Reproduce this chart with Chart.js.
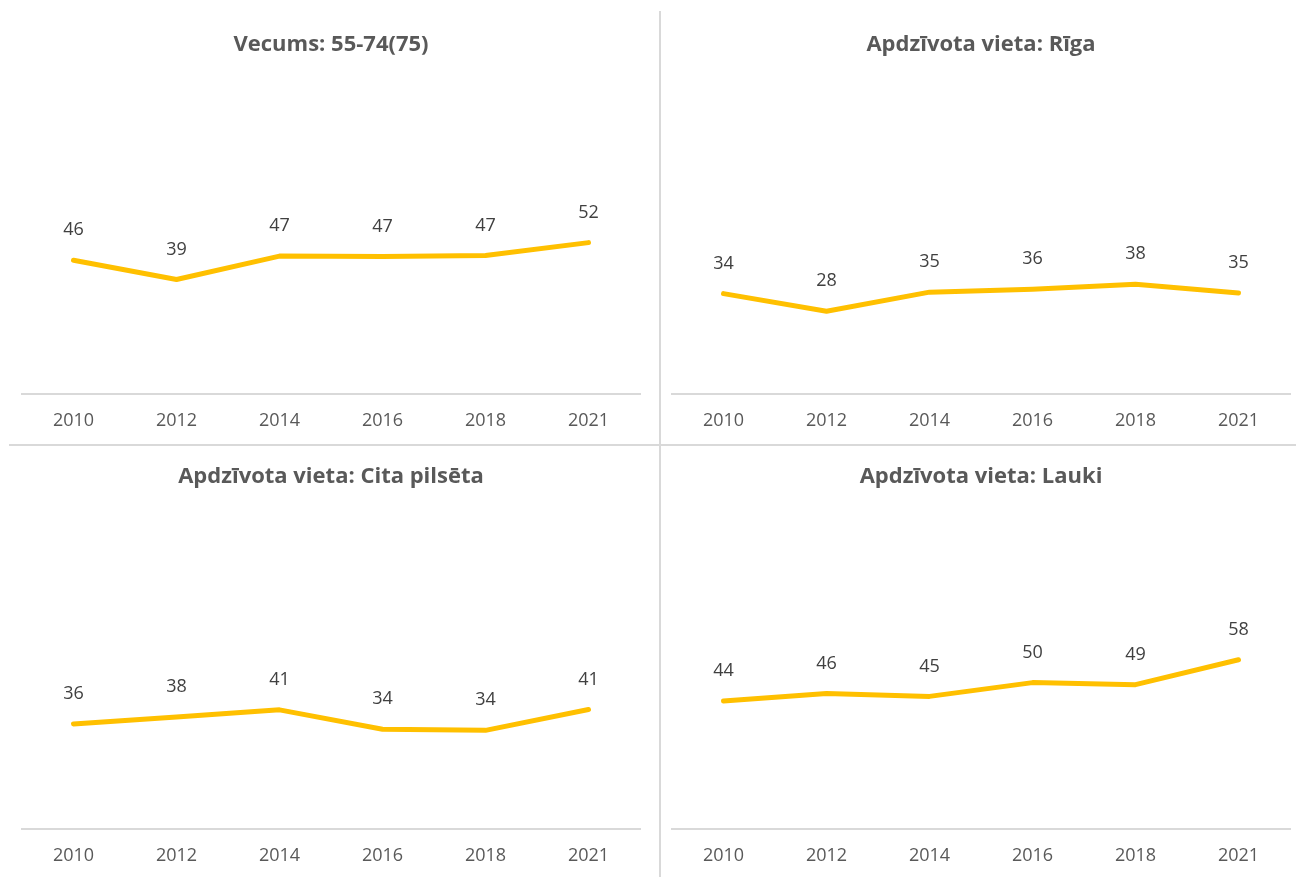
<!DOCTYPE html>
<html>
<head>
<meta charset="utf-8">
<script src="https://cdn.jsdelivr.net/npm/chart.js@4"></script>
<style>
  body { margin: 0; background: #fff; width: 1296px; height: 877px; position: relative; overflow: hidden; }
  .panel { position: absolute; }
  .vline { position: absolute; left: 659px; top: 11px; width: 2px; height: 866px; background: #d9d9d9; }
  .hline { position: absolute; left: 9px; top: 444px; width: 1287px; height: 2px; background: #d9d9d9; }
</style>
</head>
<body>
<div class="panel" style="left:0;top:0;width:658px;height:444px"><canvas id="c1"></canvas></div>
<div class="panel" style="left:662px;top:0;width:634px;height:444px"><canvas id="c2"></canvas></div>
<div class="panel" style="left:0;top:447px;width:658px;height:430px"><canvas id="c3"></canvas></div>
<div class="panel" style="left:662px;top:447px;width:634px;height:430px"><canvas id="c4"></canvas></div>
<div class="vline"></div>
<div class="hline"></div>
<script>
const years = ['2010', '2012', '2014', '2016', '2018', '2021'];

const titleAge = 'Vecums: 55-74(75)';
const titleRiga = 'Apdzīvota vieta: Rīga';
const titleCity = 'Apdzīvota vieta: Cita pilsēta';
const titleRural = 'Apdzīvota vieta: Lauki';

const valuesAge = [45.8, 39.2, 47.2, 47.1, 47.4, 51.8];
const valuesRiga = [34.4, 28.4, 34.9, 35.9, 37.6, 34.6];
const valuesCity = [36.0, 38.4, 40.8, 34.2, 33.8, 40.9];
const valuesRural = [43.8, 46.4, 45.4, 50.1, 49.4, 57.9];

const lineColor = '#FFC000';
const fontFamily = "'Open Sans', sans-serif";

// draws the rounded value above every point
const pointLabels = {
  id: 'pointLabels',
  afterDatasetsDraw(chart) {
    const ctx = chart.ctx;
    ctx.save();
    ctx.font = '18px ' + fontFamily;
    ctx.fillStyle = '#404040';
    ctx.textAlign = 'center';
    ctx.textBaseline = 'middle';
    chart.getDatasetMeta(0).data.forEach((pt, i) => {
      const v = chart.data.datasets[0].data[i];
      ctx.fillText(Math.round(v), pt.x, pt.y - 30);
    });
    ctx.restore();
  }
};

function makeChart(id, title, values, pad, titlePad) {
  return new Chart(document.getElementById(id), {
    type: 'line',
    data: {
      labels: years,
      datasets: [{
        data: values,
        borderColor: lineColor,
        borderWidth: 5,
        pointRadius: 0,
        fill: false,
        tension: 0,
        borderCapStyle: 'round',
        borderJoinStyle: 'round'
      }]
    },
    options: {
      responsive: true,
      maintainAspectRatio: false,
      animation: false,
      layout: { padding: pad },
      plugins: {
        legend: { display: false },
        tooltip: { enabled: false },
        title: {
          display: true,
          text: title,
          color: '#595959',
          font: { family: fontFamily, size: 22, weight: 'bold' },
          padding: titlePad
        }
      },
      scales: {
        x: {
          offset: true,
          grid: { display: false, drawTicks: false },
          border: { display: true, color: '#d9d9d9', width: 2 },
          ticks: { color: '#595959', padding: 16, maxRotation: 0, font: { family: fontFamily, size: 18 } }
        },
        y: { display: false, min: 0, max: 100 }
      }
    },
    plugins: [pointLabels]
  });
}

makeChart('c1', titleAge, valuesAge, { left: 22, right: 18, top: 0, bottom: -4 }, { top: 32, bottom: 43 });
makeChart('c2', titleRiga, valuesRiga, { left: 10, right: 6, top: 0, bottom: -4 }, { top: 32, bottom: 43 });
makeChart('c3', titleCity, valuesCity, { left: 22, right: 18, top: 0, bottom: -6 }, { top: 17, bottom: 46 });
makeChart('c4', titleRural, valuesRural, { left: 10, right: 6, top: 0, bottom: -6 }, { top: 17, bottom: 46 });
</script>
</body>
</html>
